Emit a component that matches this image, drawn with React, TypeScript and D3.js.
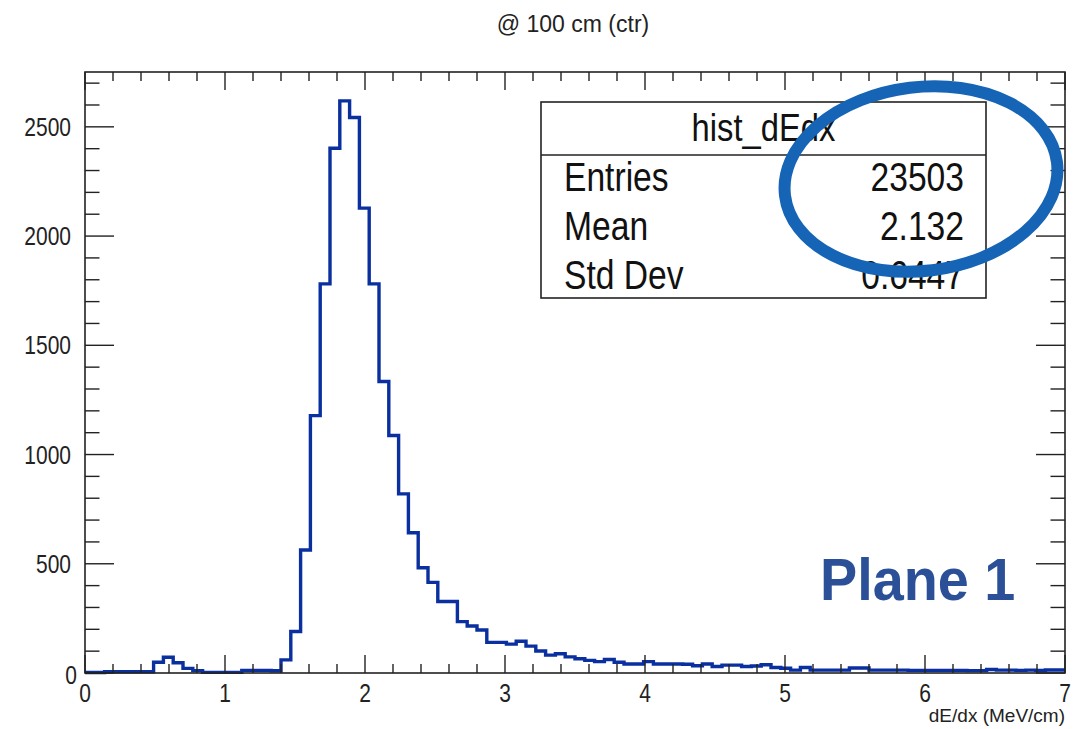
import React from "react";
import * as d3 from "d3";

const X_MIN = 0;
const X_MAX = 7;
const N_BINS = 100;
const Y_MAX = 2751;

// bin contents of hist_dEdx (100 bins, 0..7 MeV/cm)
const counts: number[] = [
  2, 2, 6, 6, 6, 6, 6, 49, 72, 47,
  21, 11, 3, 3, 3, 3, 12, 12, 12, 10,
  60, 190, 563, 1178, 1781, 2402, 2619, 2543, 2128, 1781,
  1334, 1087, 820, 642, 482, 415, 327, 327, 235, 215,
  197, 140, 140, 132, 145, 123, 101, 82, 88, 74,
  65, 58, 52, 62, 49, 41, 41, 52, 41, 41,
  41, 40, 33, 41, 30, 36, 36, 30, 32, 38,
  25, 22, 13, 25, 13, 13, 13, 13, 23, 23,
  13, 13, 13, 13, 12, 12, 12, 12, 12, 12,
  11, 11, 16, 13, 13, 12, 13, 12, 14, 14,
];

const xMajorTicks = [0, 1, 2, 3, 4, 5, 6, 7];
const yMajorTicks = [0, 500, 1000, 1500, 2000, 2500];

const titleText = "@ 100 cm (ctr)";
const xAxisLabel = "dE/dx (MeV/cm)";
const statsName = "hist_dEdx";
const statsLabels = ["Entries", "Mean", "Std Dev"];
const statsValues = ["23503", "2.132", "0.6447"];
const annotation = "Plane 1";

const W = 1085;
const H = 729;
const L = 85, R = 1065, T = 72, B = 673;
const FONT = "'Liberation Sans', Arial, Helvetica, sans-serif";

export default function App() {
  const x = d3.scaleLinear().domain([X_MIN, X_MAX]).range([L, R]);
  const y = d3.scaleLinear().domain([0, Y_MAX]).range([B, T]);
  const bw = (X_MAX - X_MIN) / N_BINS;

  const pts: [number, number][] = counts.map((c, i) => [X_MIN + i * bw, c]);
  pts.push([X_MAX, counts[counts.length - 1]]);
  const line = d3
    .line<[number, number]>()
    .x((d) => x(d[0]))
    .y((d) => y(d[1]))
    .curve(d3.curveStepAfter);

  const xMinor = d3.range(0, 35 + 1).map((i) => i * 0.2).filter((v) => Math.abs(v - Math.round(v)) > 1e-6);
  const yMinor = d3.range(0, 28).map((i) => i * 100).filter((v) => v % 500 !== 0);

  const yTickMaj = 29, yTickMin = 14.5, xTickMaj = 18, xTickMin = 9;

  const bx0 = 541, bx1 = 986, by0 = 102, by1 = 298, bdiv = 155;
  const rowY = [191, 240, 289];

  return (
    <svg
      width={W}
      height={H}
      style={{ position: "absolute", left: 0, top: 0, background: "#fff" }}
      fontFamily={FONT}
    >
      <rect x={0} y={0} width={W} height={H} fill="#fff" />
      {/* title */}
      <text x={573} y={32} textAnchor="middle" fontSize={23} fill="#222">
        {titleText}
      </text>

      {/* histogram */}
      <path d={line(pts) || ""} fill="none" stroke="#0a2f9e" strokeWidth={3.4} strokeLinejoin="miter" />

      {/* frame */}
      <rect x={L} y={T} width={R - L} height={B - T} fill="none" stroke="#222" strokeWidth={1.6} />

      {/* ticks on all four sides */}
      <g stroke="#222" strokeWidth={1.4}>
        {xMajorTicks.map((v) => (
          <g key={"xm" + v}>
            <line x1={x(v)} x2={x(v)} y1={B} y2={B - xTickMaj} />
            <line x1={x(v)} x2={x(v)} y1={T} y2={T + xTickMaj} />
          </g>
        ))}
        {xMinor.map((v) => (
          <g key={"xn" + v}>
            <line x1={x(v)} x2={x(v)} y1={B} y2={B - xTickMin} />
            <line x1={x(v)} x2={x(v)} y1={T} y2={T + xTickMin} />
          </g>
        ))}
        {yMajorTicks.map((v) => (
          <g key={"ym" + v}>
            <line x1={L} x2={L + yTickMaj} y1={y(v)} y2={y(v)} />
            <line x1={R} x2={R - yTickMaj} y1={y(v)} y2={y(v)} />
          </g>
        ))}
        {yMinor.map((v) => (
          <g key={"yn" + v}>
            <line x1={L} x2={L + yTickMin} y1={y(v)} y2={y(v)} />
            <line x1={R} x2={R - yTickMin} y1={y(v)} y2={y(v)} />
          </g>
        ))}
      </g>

      {/* y tick labels */}
      {yMajorTicks.map((v) => (
        <g key={"yl" + v} transform={`translate(${v === 0 ? 77 : 71},${y(v) + (v === 0 ? 11 : 9)}) scale(0.84,1)`}>
          <text x={0} y={0} textAnchor="end" fontSize={25} fill="#222">
            {v}
          </text>
        </g>
      ))}
      {/* x tick labels */}
      {xMajorTicks.map((v) => (
        <g key={"xl" + v} transform={`translate(${x(v)},${702}) scale(0.84,1)`}>
          <text x={0} y={0} textAnchor="middle" fontSize={25} fill="#222">
            {v}
          </text>
        </g>
      ))}
      <text x={R} y={722} textAnchor="end" fontSize={19} fill="#222">
        {xAxisLabel}
      </text>

      {/* stats box */}
      <rect x={bx0} y={by0} width={bx1 - bx0} height={by1 - by0} fill="#fff" stroke="#222" strokeWidth={1.6} />
      <line x1={bx0} x2={bx1} y1={bdiv} y2={bdiv} stroke="#222" strokeWidth={1.6} />
      <g transform={`translate(${(bx0 + bx1) / 2},${141}) scale(0.84,1)`}>
        <text textAnchor="middle" fontSize={39} fill="#111">
          {statsName}
        </text>
      </g>
      {statsLabels.map((lab, i) => (
        <g key={lab}>
          <g transform={`translate(${564},${rowY[i]}) scale(0.82,1)`}>
            <text textAnchor="start" fontSize={41} fill="#111">
              {lab}
            </text>
          </g>
          <g transform={`translate(${964},${rowY[i]}) scale(0.82,1)`}>
            <text textAnchor="end" fontSize={41} fill="#111">
              {statsValues[i]}
            </text>
          </g>
        </g>
      ))}

      {/* highlight ellipse */}
      <ellipse
        cx={921}
        cy={179}
        rx={137}
        ry={92}
        transform="rotate(-7 921 179)"
        fill="none"
        stroke="#1664b6"
        strokeWidth={12}
      />

      {/* annotation */}
      <g transform={`translate(${820},${600}) scale(0.93,1)`}>
        <text fontSize={60} fontWeight="bold" fill="#2b5097">
          {annotation}
        </text>
      </g>
    </svg>
  );
}
